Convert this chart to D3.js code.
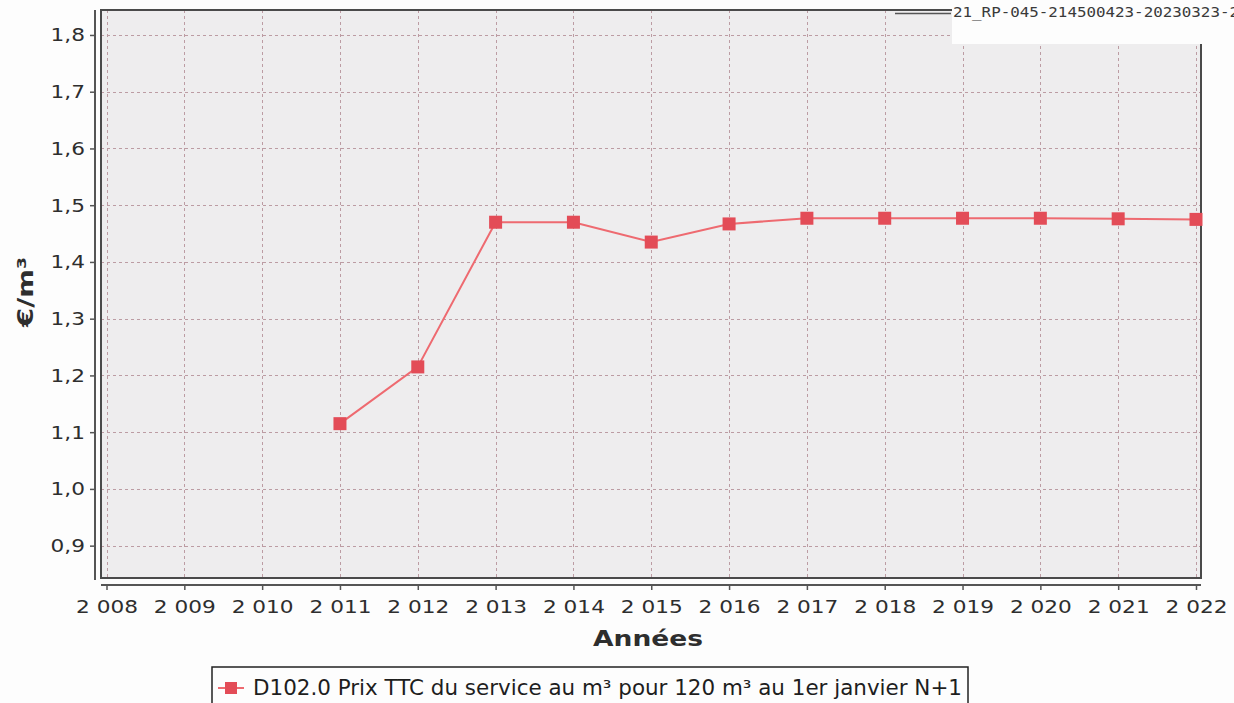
<!DOCTYPE html>
<html><head><meta charset="utf-8">
<script src="https://cdn.jsdelivr.net/npm/d3@7"></script>
<style>
html,body{margin:0;padding:0;background:#fdfdfd;}
svg{display:block;font-family:"DejaVu Sans",sans-serif;}
</style></head>
<body>
<svg id="c" width="1234" height="703"></svg>
<script>
const years = [2011, 2012, 2013, 2014, 2015, 2016, 2017, 2018, 2019, 2020, 2021, 2022];
const prices = [1.115, 1.215, 1.470, 1.470, 1.435, 1.467, 1.477, 1.477, 1.477, 1.477, 1.476, 1.475];
const xTicks = [2008, 2009, 2010, 2011, 2012, 2013, 2014, 2015, 2016, 2017, 2018, 2019, 2020, 2021, 2022];
const yTicks = [0.9, 1.0, 1.1, 1.2, 1.3, 1.4, 1.5, 1.6, 1.7, 1.8];
const seriesName = "D102.0 Prix TTC du service au m³ pour 120 m³ au 1er janvier N+1";
const xTitle = "Années";
const yTitle = "€/m³";
const docRef = "21_RP-045-214500423-20230323-2";

const svg = d3.select("#c");
const plot = {l: 101, r: 1201, t: 10, b: 578};
const x = d3.scaleLinear().domain([2008, 2022]).range([106.5, 1196]);
const y = d3.scaleLinear().domain([0.843, 1.844]).range([plot.b, plot.t]);
const fmtY = v => v.toFixed(1).replace(".", ",");
const fmtX = v => { const s = String(v); return s[0] + "\u00A0" + s.slice(1); };

// plot background
svg.append("rect").attr("x", plot.l).attr("y", plot.t)
  .attr("width", plot.r - plot.l).attr("height", plot.b - plot.t)
  .attr("fill", "#eeedee");

// grid
const grid = svg.append("g").attr("stroke", "#b48f97").attr("stroke-width", 1)
  .attr("stroke-dasharray", "3,3").attr("opacity", 0.85);
grid.selectAll("line.h").data(yTicks).join("line")
  .attr("x1", plot.l).attr("x2", plot.r)
  .attr("y1", d => Math.round(y(d)) + 0.5).attr("y2", d => Math.round(y(d)) + 0.5);
grid.selectAll("line.v").data(xTicks).join("line")
  .attr("y1", plot.t).attr("y2", plot.b)
  .attr("x1", d => Math.round(x(d)) + 0.5).attr("x2", d => Math.round(x(d)) + 0.5);

// plot border
svg.append("rect").attr("x", plot.l).attr("y", plot.t)
  .attr("width", plot.r - plot.l).attr("height", plot.b - plot.t)
  .attr("fill", "none").attr("stroke", "#4a4a4a").attr("stroke-width", 2);

// y axis
const yAxis = svg.append("g").attr("transform", "translate(95,0)")
  .call(d3.axisLeft(y).tickValues(yTicks).tickFormat(fmtY).tickSizeOuter(0).tickSizeInner(5).tickPadding(7));
yAxis.select(".domain").attr("d", `M0,${plot.t}V${plot.b + 2}`).attr("stroke", "#555").attr("stroke-width", 2);
yAxis.selectAll(".tick line").attr("stroke", "#555").attr("stroke-width", 1.5);
yAxis.selectAll(".tick text").attr("font-size", 18.5).attr("fill", "#2e2e2e")
  .attr("font-family", "DejaVu Sans, sans-serif")
  .attr("transform", "scale(1.17,1)").attr("x", -10 / 1.17);

// x axis
const xAxis = svg.append("g").attr("transform", "translate(0,585)")
  .call(d3.axisBottom(x).tickValues(xTicks).tickFormat(fmtX).tickSizeOuter(0).tickSizeInner(5).tickPadding(10));
xAxis.select(".domain").attr("d", `M${plot.l},0H${plot.r}`).attr("stroke", "#555").attr("stroke-width", 2);
xAxis.selectAll(".tick line").attr("stroke", "#555").attr("stroke-width", 1.5);
xAxis.selectAll(".tick text").attr("font-size", 18.5).attr("fill", "#2e2e2e")
  .attr("font-family", "DejaVu Sans, sans-serif")
  .attr("transform", "scale(1.17,1)");

// axis titles
svg.append("text").attr("x", 648).attr("y", 646).attr("text-anchor", "middle")
  .attr("font-size", 22).attr("font-weight", "bold").attr("fill", "#2e2e2e")
  .attr("textLength", 110).attr("lengthAdjust", "spacingAndGlyphs").text(xTitle);
svg.append("text").attr("transform", "translate(33,292) rotate(-90)").attr("text-anchor", "middle")
  .attr("font-size", 21).attr("font-weight", "bold").attr("fill", "#2e2e2e")
  .attr("textLength", 70).attr("lengthAdjust", "spacingAndGlyphs").text(yTitle);

// line + markers
const line = d3.line().x((d, i) => x(years[i])).y(d => y(d));
svg.append("path").datum(prices).attr("d", line).attr("fill", "none")
  .attr("stroke", "#ee6a70").attr("stroke-width", 2);
svg.selectAll("rect.m").data(prices).join("rect").attr("class", "m")
  .attr("x", (d, i) => x(years[i]) - 6.5).attr("y", d => y(d) - 6.5)
  .attr("width", 13).attr("height", 13).attr("fill", "#e34c57");

// top-right document stamp (white patch)
svg.append("rect").attr("x", 952).attr("y", 0).attr("width", 282).attr("height", 44).attr("fill", "#fdfdfd");
svg.append("text").attr("x", 953).attr("y", 17).attr("font-family", "DejaVu Sans Mono, monospace")
  .attr("font-size", 14).attr("fill", "#3a3a3a").attr("textLength", 286).attr("lengthAdjust", "spacingAndGlyphs")
  .text(docRef);
svg.append("line").attr("x1", 895).attr("x2", 951).attr("y1", 13.5).attr("y2", 13.5).attr("stroke", "#555").attr("stroke-width", 1.5);

// legend
const lg = svg.append("g");
lg.append("rect").attr("x", 212).attr("y", 667).attr("width", 756).attr("height", 45)
  .attr("fill", "#fdfdfd").attr("stroke", "#222").attr("stroke-width", 1.5);
lg.append("line").attr("x1", 218).attr("x2", 244).attr("y1", 688).attr("y2", 688)
  .attr("stroke", "#ee6a70").attr("stroke-width", 2);
lg.append("rect").attr("x", 225).attr("y", 682).attr("width", 12).attr("height", 12).attr("fill", "#e34c57");
lg.append("text").attr("x", 253).attr("y", 695).attr("font-size", 20.5).attr("fill", "#1e1e1e")
  .attr("textLength", 709).attr("lengthAdjust", "spacingAndGlyphs").text(seriesName);
</script>
</body></html>
